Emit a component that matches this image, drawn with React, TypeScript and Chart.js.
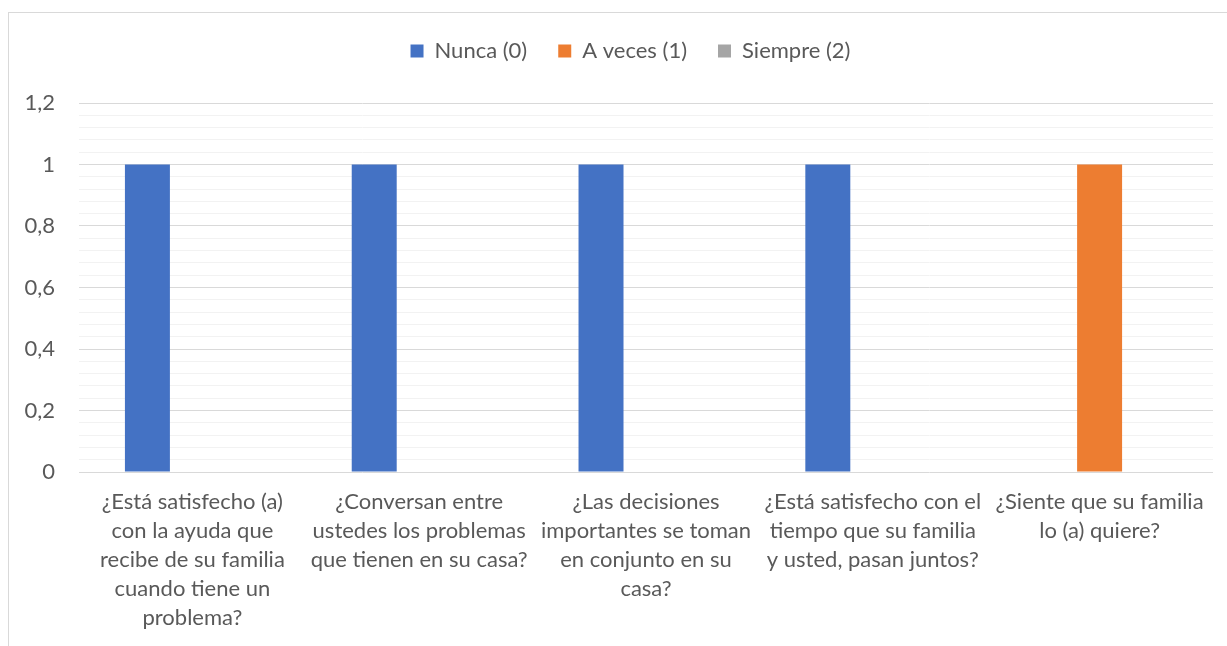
import React, { useEffect, useRef } from "react";
import { Chart, registerables } from "chart.js";

Chart.register(...registerables);

const categories: string[][] = [
  ["¿Está satisfecho (a)", "con la ayuda que", "recibe de su familia", "cuando tiene un", "problema?"],
  ["¿Conversan entre", "ustedes los problemas", "que tienen en su casa?"],
  ["¿Las decisiones", "importantes se toman", "en conjunto en su", "casa?"],
  ["¿Está satisfecho con el", "tiempo que su familia", "y usted, pasan juntos?"],
  ["¿Siente que su familia", "lo (a) quiere?"],
];

const seriesNames = ["Nunca (0)", "A veces (1)", "Siempre (2)"];
const nunca = [1, 1, 1, 1, 0];
const aVeces = [0, 0, 0, 0, 1];
const siempre = [0, 0, 0, 0, 0];
const seriesColors = ["#4472C4", "#ED7D31", "#A5A5A5"];

const yMin = 0;
const yMax = 1.2;
const yMinorStep = 0.04;

const FONT = "Lato, Carlito, Calibri, 'Open Sans', sans-serif";
const TEXT = "#595959";
const FS = 22;

const isMajor = (v: number) => Math.abs(v * 5 - Math.round(v * 5)) < 1e-6;

export default function App() {
  const ref = useRef<HTMLCanvasElement>(null);

  useEffect(() => {
    if (!ref.current) return;
    const legendSpacer = {
      id: "legendSpacer",
      beforeInit(chart: any) {
        const lg = chart.legend;
        const origFit = lg.fit;
        lg.fit = function () {
          origFit.call(this);
          this.height += 31;
        };
        const origDraw = lg.draw;
        lg.draw = function () {
          const c = this.ctx;
          c.save();
          c.translate(20, 0);
          origDraw.call(this);
          c.restore();
        };
      },
    };
    const chart = new Chart(ref.current, {
      type: "bar",
      data: {
        labels: categories,
        datasets: [nunca, aVeces, siempre].map((d, i) => ({
          label: seriesNames[i],
          data: d,
          backgroundColor: seriesColors[i],
          borderWidth: 0,
          categoryPercentage: 0.595,
          barPercentage: 1,
        })),
      },
      options: {
        animation: false,
        responsive: false,
        maintainAspectRatio: false,
        layout: { padding: { top: 9, left: 8, right: 14, bottom: 0 } },
        plugins: {
          tooltip: { enabled: false },
          legend: {
            position: "top",
            labels: {
              boxWidth: 13,
              boxHeight: 13,
              padding: 31,
              color: TEXT,
              font: { family: FONT, size: FS },
            },
          },
        },
        scales: {
          x: {
            grid: { display: false },
            border: { display: false },
            ticks: {
              color: TEXT,
              font: { family: FONT, size: FS, lineHeight: 1.32 },
              maxRotation: 0,
              minRotation: 0,
              autoSkip: false,
              padding: 7,
            },
            afterFit(scale: any) {
              scale.height = 174;
            },
          },
          y: {
            min: yMin,
            max: yMax,
            border: { display: false },
            grid: {
              drawTicks: false,
              lineWidth: 1,
              color: (ctx: any) => (isMajor(ctx.tick.value) ? "#D9D9D9" : "#F2F2F2"),
            },
            ticks: {
              stepSize: yMinorStep,
              autoSkip: false,
              maxTicksLimit: 100,
              color: TEXT,
              padding: 24,
              font: { family: FONT, size: FS },
              callback: (v: any) => {
                const n = Number(v);
                if (!isMajor(n)) return "";
                return (Math.round(n * 10) / 10).toString().replace(".", ",");
              },
            },
            afterFit(scale: any) {
              scale.width = 71;
            },
          },
        },
      },
      plugins: [legendSpacer],
    });
    return () => chart.destroy();
  }, []);

  return (
    <div style={{ position: "absolute", left: 0, top: 0, width: 1227, height: 646, overflow: "hidden", background: "#fff" }}>
      <div
        style={{
          position: "absolute",
          left: 8,
          top: 12,
          width: 1260,
          height: 680,
          border: "1px solid #D9D9D9",
          boxSizing: "border-box",
        }}
      />
      <canvas ref={ref} width={1227} height={646} style={{ position: "absolute", left: 0, top: 0 }} />
    </div>
  );
}
